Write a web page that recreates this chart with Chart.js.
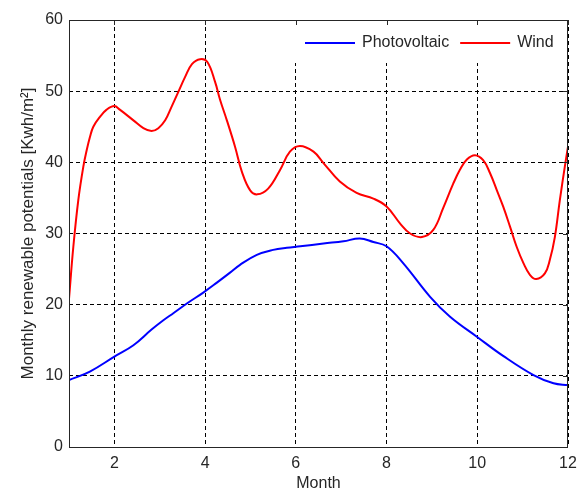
<!DOCTYPE html>
<html>
<head>
<meta charset="utf-8">
<script src="https://cdn.jsdelivr.net/npm/chart.js@4/dist/chart.umd.min.js"></script>
<style>
  html, body { margin: 0; padding: 0; background: #fff; }
  canvas { display: block; }
</style>
</head>
<body>
<canvas id="chart" width="584" height="492"></canvas>
<script>
// Monthly renewable potentials, sampled along each curve
const windMonths = [1.00, 1.095, 1.205, 1.316, 1.39, 1.463, 1.536, 1.683, 1.83, 2.00, 2.12, 2.42, 2.64, 2.82,
    2.97, 3.12, 3.26, 3.41, 3.56, 3.71, 3.89, 4.05, 4.22, 4.33, 4.48, 4.66, 4.81, 4.99, 5.15, 5.39,
    5.65, 5.87, 6.09, 6.39, 6.61, 6.97, 7.34, 7.71, 8.00, 8.30, 8.52, 8.78, 9.03, 9.25, 9.47, 9.62,
    9.77, 9.95, 10.13, 10.28, 10.43, 10.57, 10.72, 10.87, 11.02, 11.16, 11.30, 11.49, 11.60, 11.71,
    11.82, 11.93, 12.00];
const windValues = [20.8, 28.1, 34.7, 39.4, 41.7, 43.6, 45.0, 46.4, 47.4, 47.9, 47.4, 45.9, 44.8, 44.4,
    44.8, 45.9, 47.8, 49.9, 52.0, 53.8, 54.5, 54.1, 51.3, 48.8, 45.9, 42.2, 38.7, 36.1, 35.5, 36.3,
    38.9, 41.5, 42.3, 41.5, 39.9, 37.3, 35.7, 34.9, 33.8, 31.4, 30.0, 29.5, 30.5, 33.6, 37.0, 39.0,
    40.4, 41.0, 40.3, 38.5, 36.1, 33.8, 31.0, 28.1, 25.8, 24.2, 23.6, 24.4, 26.3, 29.5,
    34.7, 39.4, 42.2];

const pvMonths = [1.00, 1.46, 2.00, 2.42, 2.82, 3.08, 3.30, 3.63, 3.96, 4.26, 4.55, 4.77, 5.14, 5.50,
    5.80, 6.10, 6.61, 7.05, 7.41, 7.71, 8.00, 8.37, 8.96, 9.40, 9.99, 10.57, 11.24, 11.68, 12.00];
const pvValues = [9.4, 10.6, 12.7, 14.3, 16.5, 17.8, 18.8, 20.3, 21.7, 23.1, 24.5, 25.6, 27.0, 27.7,
    28.0, 28.2, 28.6, 28.9, 29.3, 28.8, 28.2, 25.8, 21.1, 18.3, 15.5, 12.8, 10.1, 8.95, 8.7];

const seriesNames = ['Photovoltaic', 'Wind'];
const xTicks = [2, 4, 6, 8, 10, 12];
const yTicks = [0, 10, 20, 30, 40, 50, 60];

const FONT = "'Liberation Sans', Arial, sans-serif";
const TEXT = '#262626';

function pairs(xs, ys) {
    return xs.map((x, i) => ({ x: x, y: ys[i] }));
}

// box round the plot, with short inward ticks like the old plotting style
const frame = {
    id: 'frame',
    afterDraw(chart) {
        const { ctx, chartArea: a, scales } = chart;
        ctx.save();
        ctx.strokeStyle = TEXT;
        ctx.lineWidth = 1;
        ctx.strokeRect(a.left + 0.5, a.top + 0.5, a.right - a.left - 1, a.bottom - a.top);
        ctx.beginPath();
        xTicks.forEach(v => {
            const px = Math.round(scales.x.getPixelForValue(v)) + 0.5;
            ctx.moveTo(px, a.top); ctx.lineTo(px, a.top + 5);
        });
        yTicks.forEach(v => {
            const py = Math.round(scales.y.getPixelForValue(v)) + 0.5;
            ctx.moveTo(a.right, py); ctx.lineTo(a.right - 5, py);
        });
        ctx.stroke();
        ctx.restore();
    }
};

// legend sitting inside the top right of the plot on a white patch
const insideLegend = {
    id: 'insideLegend',
    afterDatasetsDraw(chart) {
        const { ctx, chartArea: a } = chart;
        ctx.save();
        ctx.fillStyle = '#fff';
        ctx.fillRect(a.right - 276, a.top + 1, 275, 42);
        ctx.font = '16px ' + FONT;
        ctx.textBaseline = 'middle';
        const y = a.top + 23;
        let x = a.right - 263;
        chart.data.datasets.forEach(ds => {
            ctx.strokeStyle = ds.borderColor;
            ctx.lineWidth = 2;
            ctx.beginPath();
            ctx.moveTo(x, y); ctx.lineTo(x + 50, y);
            ctx.stroke();
            x += 57;
            ctx.fillStyle = TEXT;
            ctx.fillText(ds.label, x, y);
            x += ctx.measureText(ds.label).width + 11;
        });
        ctx.restore();
    }
};

new Chart(document.getElementById('chart'), {
    type: 'line',
    data: {
        datasets: [{
            label: seriesNames[0],
            data: pairs(pvMonths, pvValues),
            borderColor: '#0000ff',
            borderWidth: 2,
            pointRadius: 0,
            tension: 0.4,
            fill: false
        }, {
            label: seriesNames[1],
            data: pairs(windMonths, windValues),
            borderColor: '#ff0000',
            borderWidth: 2,
            pointRadius: 0,
            tension: 0.4,
            fill: false
        }]
    },
    options: {
        responsive: false,
        animation: false,
        layout: { padding: { top: 20, right: 16, left: 0, bottom: 0 } },
        plugins: {
            legend: { display: false },
            tooltip: { enabled: false }
        },
        scales: {
            x: {
                type: 'linear',
                min: 1,
                max: 12,
                afterBuildTicks: s => { s.ticks = xTicks.map(v => ({ value: v })); },
                afterFit: s => { s.height = 45; },
                grid: { color: '#000', lineWidth: 1, drawTicks: false },
                border: { display: false, dash: [4, 3] },
                ticks: { font: { family: FONT, size: 16 }, color: TEXT, padding: 7, maxRotation: 0, autoSkip: false },
                title: {
                    display: true,
                    text: 'Month',
                    font: { family: FONT, size: 16, lineHeight: 1 },
                    color: TEXT,
                    padding: { top: 0, bottom: 0 }
                }
            },
            y: {
                min: 0,
                max: 60,
                afterBuildTicks: s => { s.ticks = yTicks.map(v => ({ value: v })); },
                afterFit: s => { s.width = 69; },
                grid: { color: '#000', lineWidth: 1, drawTicks: false },
                border: { display: false, dash: [4, 3] },
                ticks: { font: { family: FONT, size: 16 }, color: TEXT, padding: 6 },
                title: {
                    display: true,
                    text: 'Monthly renewable potentials [Kwh/m²]',
                    font: { family: FONT, size: 17, lineHeight: 1 },
                    color: TEXT,
                    padding: { top: 20, bottom: 0 }
                }
            }
        }
    },
    plugins: [frame, insideLegend]
});
</script>
</body>
</html>
